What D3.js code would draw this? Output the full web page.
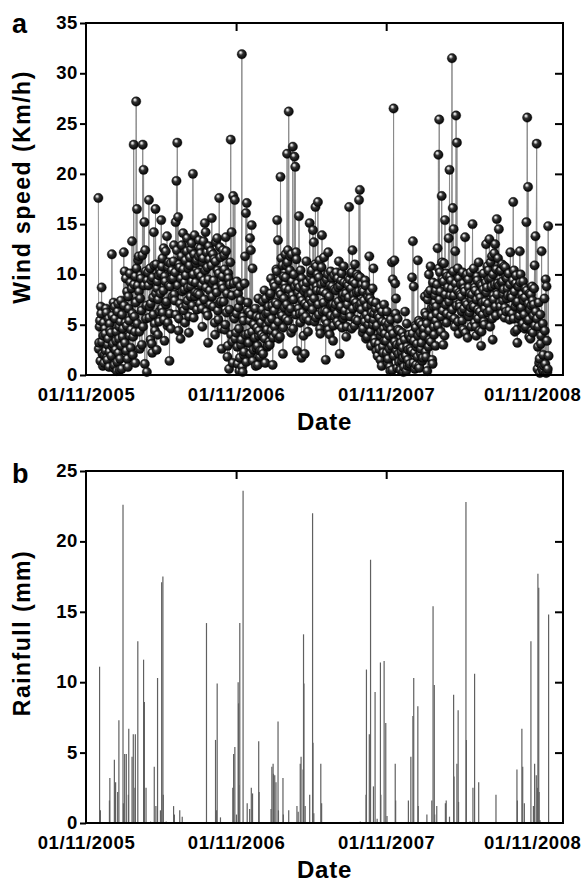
<!DOCTYPE html>
<html>
<head>
<meta charset="utf-8">
<script src="https://cdn.jsdelivr.net/npm/d3@7"></script>
<style>
body { margin: 0; background: #fff; }
text { font-family: "Liberation Sans", Arial, sans-serif; font-weight: bold; }
</style>
</head>
<body>
<svg id="chart" width="582" height="882"></svg>
<script>
// wind speed: one row per month (Dec 2005 .. Nov 2008)
var windStart = "2005-12-01";
// days 1, 3, 5, ... of each month
var windOddDays = [
  [17.6, 3.2, 5.4, 6.8, 8.7, 2.1, 3.9, 1.2, 4.6, 2.4, 6.2, 1.5, 3.6, 0.8, 5.1],
  [4.2, 12.0, 2.8, 7.2, 1.0, 5.6, 3.4, 0.4, 6.3, 2.2, 4.8, 1.6, 7.4, 0.6, 3.8],
  [12.2, 10.3, 5.2, 2.4, 8.3, 0.8, 6.6, 3.9, 9.2, 4.5, 13.3, 2.0, 22.9, 5.8, 1.2],
  [9.8, 27.2, 16.5, 8.9, 11.8, 4.3, 7.6, 9.6, 3.0, 22.9, 20.4, 15.2, 12.4, 5.6, 0.3],
  [10.2, 17.4, 6.8, 3.5, 9.4, 2.2, 7.7, 14.2, 5.1, 16.5, 11.0, 8.6, 4.0, 9.9, 6.3],
  [8.1, 15.4, 10.8, 6.2, 12.6, 3.4, 9.3, 7.0, 13.8, 5.2, 11.2, 1.4, 8.8, 4.6, 10.4],
  [9.6, 12.9, 7.4, 15.2, 19.3, 23.1, 15.7, 5.6, 10.7, 3.6, 11.8, 8.3, 14.1, 6.4, 9.2],
  [11.4, 6.9, 13.6, 8.7, 4.2, 10.9, 7.8, 12.5, 9.3, 20.0, 5.7, 13.9, 8.2, 11.1, 6.5],
  [10.2, 13.4, 7.1, 12.1, 8.9, 4.8, 11.6, 9.4, 15.1, 14.2, 6.3, 10.7, 3.2, 12.8, 8.4],
  [12.3, 15.6, 9.1, 6.8, 11.5, 4.0, 13.2, 8.2, 10.4, 5.5, 17.6, 12.7, 7.3, 2.6, 9.8],
  [8.6, 11.9, 4.5, 13.7, 6.2, 1.8, 10.1, 0.6, 9.0, 23.4, 14.2, 3.3, 17.8, 5.8, 17.4],
  [4.2, 9.3, 1.1, 6.7, 0.4, 8.8, 3.0, 31.9, 0.3, 5.4, 2.3, 11.8, 16.1, 17.1, 7.2],
  [4.1, 6.3, 13.6, 12.4, 14.9, 10.6, 2.5, 5.0, 3.7, 0.9, 5.8, 2.9, 7.6, 4.4, 1.8],
  [5.2, 2.4, 7.3, 3.8, 8.4, 1.2, 6.1, 4.5, 2.9, 6.8, 3.3, 7.9, 9.6, 5.6, 1.0],
  [9.1, 4.8, 7.2, 10.5, 15.4, 13.4, 3.6, 8.3, 19.7, 11.6, 5.9, 2.1, 9.8, 6.7, 12.0],
  [8.6, 10.9, 22.0, 12.4, 26.2, 6.3, 11.8, 4.2, 9.3, 22.7, 7.5, 21.7, 20.7, 12.2, 2.4],
  [8.2, 15.8, 6.1, 10.4, 1.7, 7.4, 9.0, 5.6, 2.1, 8.6, 11.3, 6.8, 4.3, 7.9, 15.1],
  [9.6, 10.1, 7.2, 14.4, 13.2, 5.3, 16.7, 10.8, 8.4, 17.2, 6.0, 11.4, 4.1, 9.0, 13.9],
  [8.3, 11.7, 6.4, 1.5, 9.5, 5.1, 12.2, 7.6, 4.0, 10.3, 6.9, 8.8, 3.4, 9.9, 5.8],
  [7.0, 10.2, 5.3, 8.7, 11.3, 2.1, 6.6, 9.4, 4.7, 8.0, 10.8, 5.9, 7.7, 3.8, 9.1],
  [8.9, 16.7, 6.2, 10.1, 4.6, 12.4, 9.3, 7.4, 11.0, 5.5, 8.2, 6.8, 9.8, 17.4, 18.4],
  [7.1, 9.0, 4.2, 8.3, 5.7, 9.4, 3.6, 6.8, 8.0, 5.0, 11.8, 7.6, 2.9, 6.2, 8.6],
  [10.6, 6.1, 3.2, 7.2, 4.8, 1.9, 5.9, 2.6, 6.7, 3.9, 0.9, 5.3, 2.2, 7.0, 4.1],
  [3.4, 6.3, 1.2, 5.1, 2.6, 0.4, 4.5, 11.2, 9.5, 26.5, 11.4, 9.1, 7.6, 3.0, 5.6],
  [2.1, 4.4, 0.6, 3.2, 1.4, 2.7, 0.3, 3.8, 6.3, 1.9, 5.1, 0.9, 2.5, 4.0, 1.1],
  [3.6, 9.7, 13.3, 8.8, 2.2, 4.9, 1.0, 3.1, 11.4, 5.4, 0.7, 4.2, 2.6, 5.0, 1.7],
  [4.6, 7.8, 2.3, 5.9, 0.4, 8.1, 10.0, 3.5, 10.8, 6.6, 1.5, 9.2, 4.8, 7.2, 2.9],
  [8.4, 6.1, 12.6, 21.9, 25.4, 10.2, 4.3, 17.8, 9.5, 3.0, 11.1, 15.4, 7.0, 5.2, 9.8],
  [13.6, 20.4, 7.9, 9.4, 31.5, 16.6, 14.5, 5.6, 12.3, 25.8, 23.1, 10.6, 4.1, 8.2, 6.8],
  [9.0, 6.3, 10.2, 4.5, 8.6, 13.7, 7.2, 10.0, 3.7, 9.5, 5.8, 8.1, 6.7, 7.5, 15.0],
  [10.6, 5.2, 8.4, 3.9, 9.8, 6.5, 11.2, 4.4, 7.7, 2.9, 8.9, 6.0, 10.1, 5.0, 7.3],
  [13.0, 8.7, 6.2, 10.4, 13.5, 4.8, 9.6, 11.8, 3.5, 7.9, 12.1, 13.0, 5.9, 15.5, 9.1],
  [14.5, 10.3, 6.8, 9.2, 11.0, 7.4, 8.5, 5.7, 10.7, 6.3, 9.6, 7.9, 10.1, 5.5, 12.2],
  [8.0, 6.1, 17.2, 10.4, 4.3, 9.1, 7.2, 3.2, 8.8, 5.6, 12.3, 10.0, 6.7, 4.8, 9.3],
  [7.4, 4.6, 8.6, 15.2, 25.6, 18.7, 5.5, 8.1, 3.6, 6.9, 8.8, 4.2, 7.0, 10.9, 13.8],
  [23.0, 0.6, 4.8, 1.2, 0.2, 3.1, 12.3, 0.5, 2.0, 0.9, 4.4, 9.5, 8.8, 0.3, 14.8]
];
// days 2, 4, 6, ... of each month
var windEvenDays = [
  [2.6, 4.8, 1.4, 6.1, 3.3, 0.9, 5.2, 2.0, 4.1, 6.6, 1.7, 3.0, 5.6, 2.3, 4.4],
  [1.9, 5.9, 3.1, 0.7, 6.8, 2.5, 4.3, 1.3, 7.1, 3.6, 0.5, 5.3, 2.9, 6.0, 4.6],
  [6.9, 3.2, 9.6, 4.9, 1.6, 7.8, 5.4, 10.1, 2.7, 8.6, 6.1, 3.8, 9.0, 4.3, 7.3],
  [7.2, 10.6, 5.1, 11.4, 8.3, 2.6, 9.9, 6.4, 11.9, 4.8, 8.9, 1.1, 10.3, 6.9, 9.4],
  [8.9, 5.7, 10.6, 7.1, 3.1, 9.7, 6.0, 10.9, 4.4, 8.1, 2.5, 9.3, 7.5, 5.3, 10.4],
  [10.1, 6.6, 11.6, 8.4, 5.5, 9.8, 12.3, 7.3, 4.9, 10.7, 8.9, 6.1, 11.1, 9.5, 7.8],
  [11.3, 8.0, 10.2, 6.0, 12.4, 8.9, 4.4, 11.0, 7.1, 9.6, 12.9, 6.7, 10.5, 8.5, 5.2],
  [9.9, 12.3, 7.4, 10.6, 5.8, 11.7, 8.8, 13.1, 6.9, 10.0, 12.0, 7.8, 9.2, 11.4, 8.1],
  [11.8, 8.0, 12.6, 9.8, 6.6, 11.2, 13.3, 7.5, 10.4, 8.7, 12.2, 5.9, 9.5, 11.5, 7.0],
  [10.9, 7.8, 12.0, 9.4, 5.2, 11.3, 8.6, 13.6, 6.4, 10.1, 7.1, 11.7, 4.6, 9.0, 12.4],
  [7.3, 10.5, 5.0, 12.3, 8.1, 2.9, 9.6, 6.5, 11.2, 4.0, 7.9, 1.2, 9.1, 5.6, 3.6],
  [6.1, 2.8, 8.1, 4.6, 1.7, 7.4, 3.5, 0.8, 5.8, 2.0, 9.1, 4.0, 1.3, 6.5, 3.2],
  [3.2, 5.4, 2.1, 6.0, 4.3, 1.4, 5.1, 3.6, 6.6, 2.7, 4.7, 1.0, 3.9, 5.7, 2.4],
  [4.0, 6.5, 2.1, 5.8, 3.6, 7.6, 4.9, 2.8, 6.2, 5.3, 3.0, 8.1, 4.4, 6.9, 3.7],
  [6.4, 8.8, 4.1, 10.3, 7.0, 5.3, 9.4, 3.8, 8.0, 6.1, 10.9, 4.7, 7.6, 9.0, 5.6],
  [9.7, 7.0, 11.2, 5.4, 8.5, 10.4, 6.6, 12.0, 7.9, 4.6, 10.0, 8.8, 6.0, 11.5, 9.1],
  [6.6, 8.7, 5.2, 7.8, 9.6, 6.2, 3.9, 8.3, 7.1, 5.8, 9.2, 6.9, 8.0, 5.4, 7.5],
  [8.1, 10.4, 6.5, 9.3, 7.6, 11.0, 5.7, 8.8, 10.0, 7.0, 9.7, 4.6, 8.4, 10.7, 6.3],
  [7.2, 9.2, 5.5, 8.1, 6.3, 10.0, 4.5, 7.8, 8.9, 5.9, 9.6, 7.0, 4.9, 8.5, 6.6],
  [8.4, 6.1, 9.6, 7.3, 5.0, 8.9, 6.8, 10.1, 7.7, 5.6, 9.2, 6.4, 8.1, 4.8, 7.0],
  [7.7, 9.5, 5.8, 8.6, 10.2, 6.6, 8.0, 4.9, 9.1, 7.2, 10.0, 5.4, 8.3, 6.9, 9.7],
  [6.5, 8.4, 4.6, 7.4, 5.3, 8.9, 6.0, 3.8, 7.8, 5.6, 8.2, 4.3, 6.9, 7.3, 5.0],
  [5.5, 3.6, 6.6, 2.4, 4.9, 6.0, 3.1, 5.7, 1.5, 4.3, 6.3, 2.8, 4.6, 3.4, 5.2],
  [2.2, 4.8, 1.6, 3.9, 0.8, 5.5, 2.9, 0.5, 4.1, 1.9, 3.3, 6.1, 2.4, 0.7, 4.5],
  [1.3, 3.0, 0.5, 2.3, 4.2, 1.7, 0.8, 3.5, 2.0, 0.4, 2.8, 1.5, 3.9, 0.9, 2.6],
  [2.4, 4.1, 1.2, 3.4, 0.6, 4.7, 2.8, 1.8, 3.9, 0.9, 5.2, 2.1, 3.2, 1.4, 4.4],
  [3.9, 6.2, 1.8, 5.1, 7.5, 2.8, 4.4, 8.4, 3.3, 5.8, 1.1, 6.8, 4.0, 7.9, 5.4],
  [6.8, 9.0, 4.9, 10.6, 7.5, 8.3, 5.8, 11.2, 6.4, 9.3, 3.9, 8.0, 10.1, 6.1, 8.7],
  [7.3, 9.8, 5.9, 8.6, 6.5, 10.3, 7.9, 4.8, 9.1, 6.9, 8.4, 5.3, 9.6, 7.1, 8.0],
  [7.8, 5.4, 9.1, 6.6, 8.3, 4.2, 9.8, 7.0, 5.9, 8.7, 6.2, 10.2, 4.8, 8.0, 6.9],
  [6.8, 8.7, 4.8, 7.5, 9.4, 5.6, 8.1, 6.3, 9.0, 4.3, 7.2, 8.5, 5.3, 6.6, 9.2],
  [8.2, 10.8, 7.1, 9.5, 6.4, 11.2, 8.8, 5.6, 10.0, 7.5, 9.0, 6.8, 10.5, 8.0, 11.6],
  [8.9, 7.2, 10.4, 6.1, 9.3, 8.0, 10.8, 6.7, 9.7, 7.6, 8.6, 10.1, 6.4, 9.0, 7.9],
  [7.7, 9.4, 5.6, 8.3, 6.8, 9.9, 4.5, 7.3, 8.8, 5.9, 9.2, 6.5, 8.0, 5.1, 7.6],
  [6.0, 7.7, 4.8, 8.4, 5.4, 7.1, 3.8, 6.5, 8.0, 4.4, 7.4, 5.9, 8.6, 4.9, 6.3],
  [5.6, 2.8, 7.2, 1.6, 6.0, 3.9, 0.8, 5.1, 0.4, 7.6, 1.1, 0.2, 3.4, 0.6, 1.9]
];

// rainfall events (mm), all other days are dry
var rainDates = [
  "2005-12-04","2005-12-06","2005-12-28","2005-12-29","2006-01-09","2006-01-12","2006-01-17","2006-01-20","2006-01-30","2006-01-31",
  "2006-02-03","2006-02-07","2006-02-12","2006-02-13","2006-02-21","2006-02-24","2006-02-28","2006-03-01","2006-03-07","2006-03-21",
  "2006-03-22","2006-03-23","2006-03-27","2006-04-07","2006-04-16","2006-04-20","2006-04-24","2006-05-01","2006-05-04","2006-05-07",
  "2006-05-08","2006-05-15","2006-06-02","2006-06-04","2006-06-17","2006-06-23","2006-08-21","2006-09-12","2006-09-14","2006-09-16",
  "2006-09-24","2006-10-24","2006-10-26","2006-10-29","2006-11-02","2006-11-06","2006-11-07","2006-11-08","2006-11-10","2006-11-18",
  "2006-11-28","2006-12-04","2006-12-08","2006-12-11","2006-12-26","2006-12-27","2007-01-25","2007-01-27","2007-01-30","2007-01-31",
  "2007-02-03","2007-02-06","2007-02-11","2007-02-12","2007-02-23","2007-02-24","2007-03-09","2007-03-29","2007-04-01","2007-04-06",
  "2007-04-08","2007-04-13","2007-04-14","2007-04-15","2007-04-18","2007-04-29","2007-05-06","2007-05-07","2007-05-09","2007-05-26",
  "2007-05-28","2007-08-30","2007-09-13","2007-09-14","2007-09-21","2007-09-24","2007-10-01","2007-10-05","2007-10-10","2007-10-18",
  "2007-10-19","2007-10-27","2007-10-31","2007-11-03","2007-11-23","2007-11-24","2007-12-25","2007-12-31","2008-01-05","2008-01-07",
  "2008-01-17","2008-01-18","2008-02-08","2008-02-20","2008-02-23","2008-02-26","2008-02-27","2008-03-03","2008-03-24","2008-03-26",
  "2008-04-03","2008-04-13","2008-04-14","2008-04-21","2008-04-24","2008-04-25","2008-05-13","2008-05-14","2008-05-23","2008-05-30",
  "2008-06-03","2008-06-13","2008-07-25","2008-09-14","2008-09-15","2008-09-26","2008-09-28","2008-10-02","2008-10-18","2008-10-24",
  "2008-10-27","2008-10-31","2008-11-03","2008-11-04","2008-11-06","2008-11-07","2008-11-09","2008-11-30"
];
var rainMm = [
  11.1, 0.9, 1.6, 3.2, 4.5, 2.9, 2.2, 7.3, 22.6, 1.4,
  4.9, 4.9, 2.0, 6.7, 4.7, 6.3, 2.5, 6.3, 12.9, 11.6,
  7.2, 8.6, 2.5, 0.1, 4.0, 1.2, 10.3, 0.9, 17.1, 17.5,
  2.0, 0.1, 1.2, 0.6, 0.9, 0.45, 14.2, 5.9, 0.9, 9.9,
  0.4, 2.5, 4.9, 5.4, 0.6, 10.0, 8.5, 2.7, 14.2, 23.6,
  1.4, 1.0, 2.5, 2.1, 5.8, 2.2, 1.0, 4.0, 4.2, 3.5,
  3.4, 2.9, 7.2, 0.9, 3.2, 0.6, 0.9, 1.2, 0.8, 4.2,
  4.7, 3.8, 13.4, 9.9, 1.2, 2.0, 22.0, 5.7, 0.7, 4.2,
  1.4, 0.1, 2.0, 10.9, 6.3, 18.7, 2.6, 9.3, 0.3, 11.4,
  2.0, 11.5, 7.1, 0.5, 4.2, 1.6, 1.6, 4.7, 7.6, 10.3,
  8.3, 1.2, 0.6, 1.6, 15.4, 9.8, 0.6, 1.2, 1.4, 1.6,
  0.45, 9.1, 3.3, 4.2, 8.0, 1.5, 22.8, 5.9, 0.1, 2.5,
  10.6, 2.9, 2.0, 3.8, 1.6, 6.7, 4.0, 1.4, 12.9, 1.2,
  4.2, 3.4, 2.5, 17.7, 16.7, 2.2, 0.2, 14.8
];

var dateTicks = ["2005-11-01", "2006-11-01", "2007-11-01", "2008-11-01"];
var windTicks = [0, 5, 10, 15, 20, 25, 30, 35];
var rainTicks = [0, 5, 10, 15, 20, 25];

var parseDate = d3.timeParse("%Y-%m-%d");
var fmtDate = d3.timeFormat("%d/%m/%Y");

var windPoints = [];
function addWind(rows, firstDay) {
  rows.forEach(function(row, m) {
    row.forEach(function(v, k) {
      var d = d3.timeMonth.offset(parseDate(windStart), m);
      d.setDate(firstDay + 2 * k);
      windPoints.push({ date: d, value: v });
    });
  });
}
addWind(windOddDays, 1);
addWind(windEvenDays, 2);
windPoints.sort(function(a, b) { return a.date - b.date; });

var rainPoints = rainDates.map(function(s, i) { return { date: parseDate(s), value: rainMm[i] }; });

var svg = d3.select("#chart");
var left = 86, right = 563;

var x = d3.scaleTime()
  .domain([parseDate("2005-11-01"), parseDate("2009-01-04")])
  .range([left, right]);

// shaded ball for the wind points
var grad = svg.append("defs").append("radialGradient")
  .attr("id", "ball").attr("cx", "45%").attr("cy", "45%").attr("r", "60%")
  .attr("fx", "35%").attr("fy", "30%");
grad.append("stop").attr("offset", "0%").attr("stop-color", "#ffffff");
grad.append("stop").attr("offset", "14%").attr("stop-color", "#cfcfcf");
grad.append("stop").attr("offset", "40%").attr("stop-color", "#333");
grad.append("stop").attr("offset", "85%").attr("stop-color", "#0a0a0a");
grad.append("stop").attr("offset", "100%").attr("stop-color", "#262626");

function drawPanel(top, bottom, y, yTicks, title, titleY, letter) {
  var g = svg.append("g");

  // left ticks, outside
  var ax = g.append("g").attr("transform", "translate(" + left + ",0)")
    .call(d3.axisLeft(y).tickValues(yTicks).tickSize(6).tickPadding(2));
  ax.select(".domain").remove();
  ax.selectAll("line").attr("stroke-width", 2);
  ax.selectAll("text").style("font-size", "18.5px").attr("font-family", null)
    .attr("dy", "0.3em").style("letter-spacing", "0.6px");

  // mirrored right ticks, inside
  var ar = g.append("g").attr("transform", "translate(" + right + ",0)")
    .call(d3.axisRight(y).tickValues(yTicks.slice(1, -1)).tickSize(-8).tickFormat(""));
  ar.select(".domain").remove();
  ar.selectAll("line").attr("stroke-width", 2);

  // top ticks, inside
  var at = g.append("g").attr("transform", "translate(0," + top + ")")
    .call(d3.axisTop(x).tickValues(dateTicks.slice(1, 3).map(parseDate)).tickSize(-8).tickFormat(""));
  at.select(".domain").remove();
  at.selectAll("line").attr("stroke-width", 2);

  // bottom labels
  var ab = g.append("g").attr("transform", "translate(0," + bottom + ")")
    .call(d3.axisBottom(x).tickValues(dateTicks.map(parseDate)).tickSize(0).tickPadding(13).tickFormat(fmtDate));
  ab.select(".domain").remove();
  ab.selectAll("text").style("font-size", "18.5px").attr("font-family", null)
    .style("letter-spacing", "0.6px");
  var last = parseDate(dateTicks[3]);
  ab.selectAll("text").filter(function(d) { return +d === +last; })
    .attr("text-anchor", "end").attr("x", 581 - x(last));

  g.append("rect").attr("x", left).attr("y", top)
    .attr("width", right - left).attr("height", bottom - top)
    .attr("fill", "none").attr("stroke", "#000").attr("stroke-width", 2);

  g.append("text").attr("transform", "translate(29.5," + titleY + ") rotate(-90)")
    .attr("text-anchor", "middle").style("font-size", "23px").style("letter-spacing", "1.5px")
    .text(title);

  g.append("text").attr("x", (left + right) / 2).attr("y", bottom + 55)
    .attr("text-anchor", "middle").style("font-size", "24px").style("letter-spacing", "0.8px")
    .text("Date");

  g.append("text").attr("x", 12).attr("y", top + (letter === "a" ? 10 : 12))
    .style("font-size", "27px").text(letter);
  return g;
}

// panel a: wind speed, connected line with ball symbols
var yWind = d3.scaleLinear().domain([0, 35]).range([375, 23]);
var plotA = svg.append("g");
var windLine = d3.line()
  .x(function(d) { return x(d.date); })
  .y(function(d) { return yWind(d.value); });
plotA.append("path").datum(windPoints)
  .attr("d", windLine)
  .attr("fill", "none").attr("stroke", "#8a8a8a").attr("stroke-width", 1);
plotA.selectAll("circle").data(windPoints).enter().append("circle")
  .attr("cx", function(d) { return x(d.date); })
  .attr("cy", function(d) { return yWind(d.value); })
  .attr("r", 4.7)
  .attr("fill", "url(#ball)")
  .attr("stroke", "#000").attr("stroke-width", 0.4);
drawPanel(23, 375, yWind, windTicks, "Wind speed (Km/h)", 187, "a");

// panel b: rainfall
var yRain = d3.scaleLinear().domain([0, 25]).range([823, 471]);
svg.append("g").selectAll("line").data(rainPoints).enter().append("line")
  .attr("x1", function(d) { return x(d.date); })
  .attr("x2", function(d) { return x(d.date); })
  .attr("y1", yRain(0))
  .attr("y2", function(d) { return yRain(d.value); })
  .attr("stroke", "#606060").attr("stroke-width", 1.2);
drawPanel(471, 823, yRain, rainTicks, "Rainfull (mm)", 633, "b");
</script>
</body>
</html>
